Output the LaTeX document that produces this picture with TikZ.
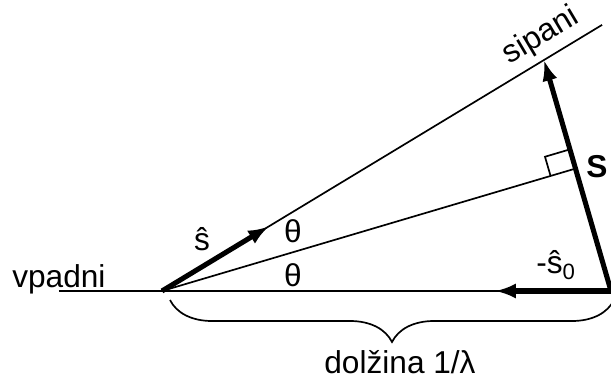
\documentclass[tikz,border=0pt]{standalone}
\usepackage{fontspec}
\setmainfont{Liberation Sans}
\usetikzlibrary{calc,arrows.meta,decorations.pathreplacing}

\begin{document}
\begin{tikzpicture}[font=\fontsize{22.5}{27}\selectfont,
    thinline/.style={line width=1.2pt},
    vec/.style={line width=3.6pt,-{Latex[length=5.2mm,width=3.8mm]}}]
    \useasboundingbox (-4.05,-2.25) rectangle (11.225,7.275);
    % Define points
    \coordinate (O) at (0,0);
    \coordinate (L) at (-2.575,0);
    \coordinate (P) at (11.225,0);
    \coordinate (T) at (9.55,5.775);
    \coordinate (E) at ($(O)!1.152!(T)$);
    \coordinate (F) at ($(P)!0.53!(T)$);
    \coordinate (sh) at ($(O)!0.28!(T)$);
    \coordinate (sh0) at (8.325,0);
    \coordinate (B1) at (0.2,-0.225);
    \coordinate (B2) at (11.3,-0.225);
    % Draw lines
    \draw[thinline] (L) -- (P);
    \draw[thinline] (O) -- (E);
    \draw[thinline] (O) -- (F);
    % Right angle
    \coordinate (F1) at ($(F)!0.65cm!(O)$);
    \coordinate (F3) at ($(F)!0.5cm!(T)$);
    \draw[thinline] (F1) -- ($(F1)+(F3)-(F)$) -- (F3);
    % Vectors
    \draw[vec] (O) -- (sh);
    \draw[vec] (P) -- (sh0);
    \draw[vec] (P) -- (T);
    % Brace
    \draw[thinline, decorate, decoration={brace, mirror, amplitude=1.05cm}] (B1) -- (B2);
    % Labels
    \node (vpadni) [anchor=base west, inner sep=0pt] at (-3.75,0.1) {vpadni};
    \node (sipani) [rotate=30.75, inner sep=0pt] at (9.475,6.375) {sipani};
    \node (s) at (1.0,1.3) {ŝ};
    \node (theta1) at (3.275,1.5) {θ};
    \node (theta2) at (3.275,0.4) {θ};
    \node (Slab) at (10.875,3.1) {\textbf{S}};
    \node (s0) at (9.85,0.65) {-ŝ\textsubscript{0}};
    \node (dolzina) [anchor=base, inner sep=0pt] at (5.95,-2.07) {dolžina 1/λ};
\end{tikzpicture}
\end{document}
